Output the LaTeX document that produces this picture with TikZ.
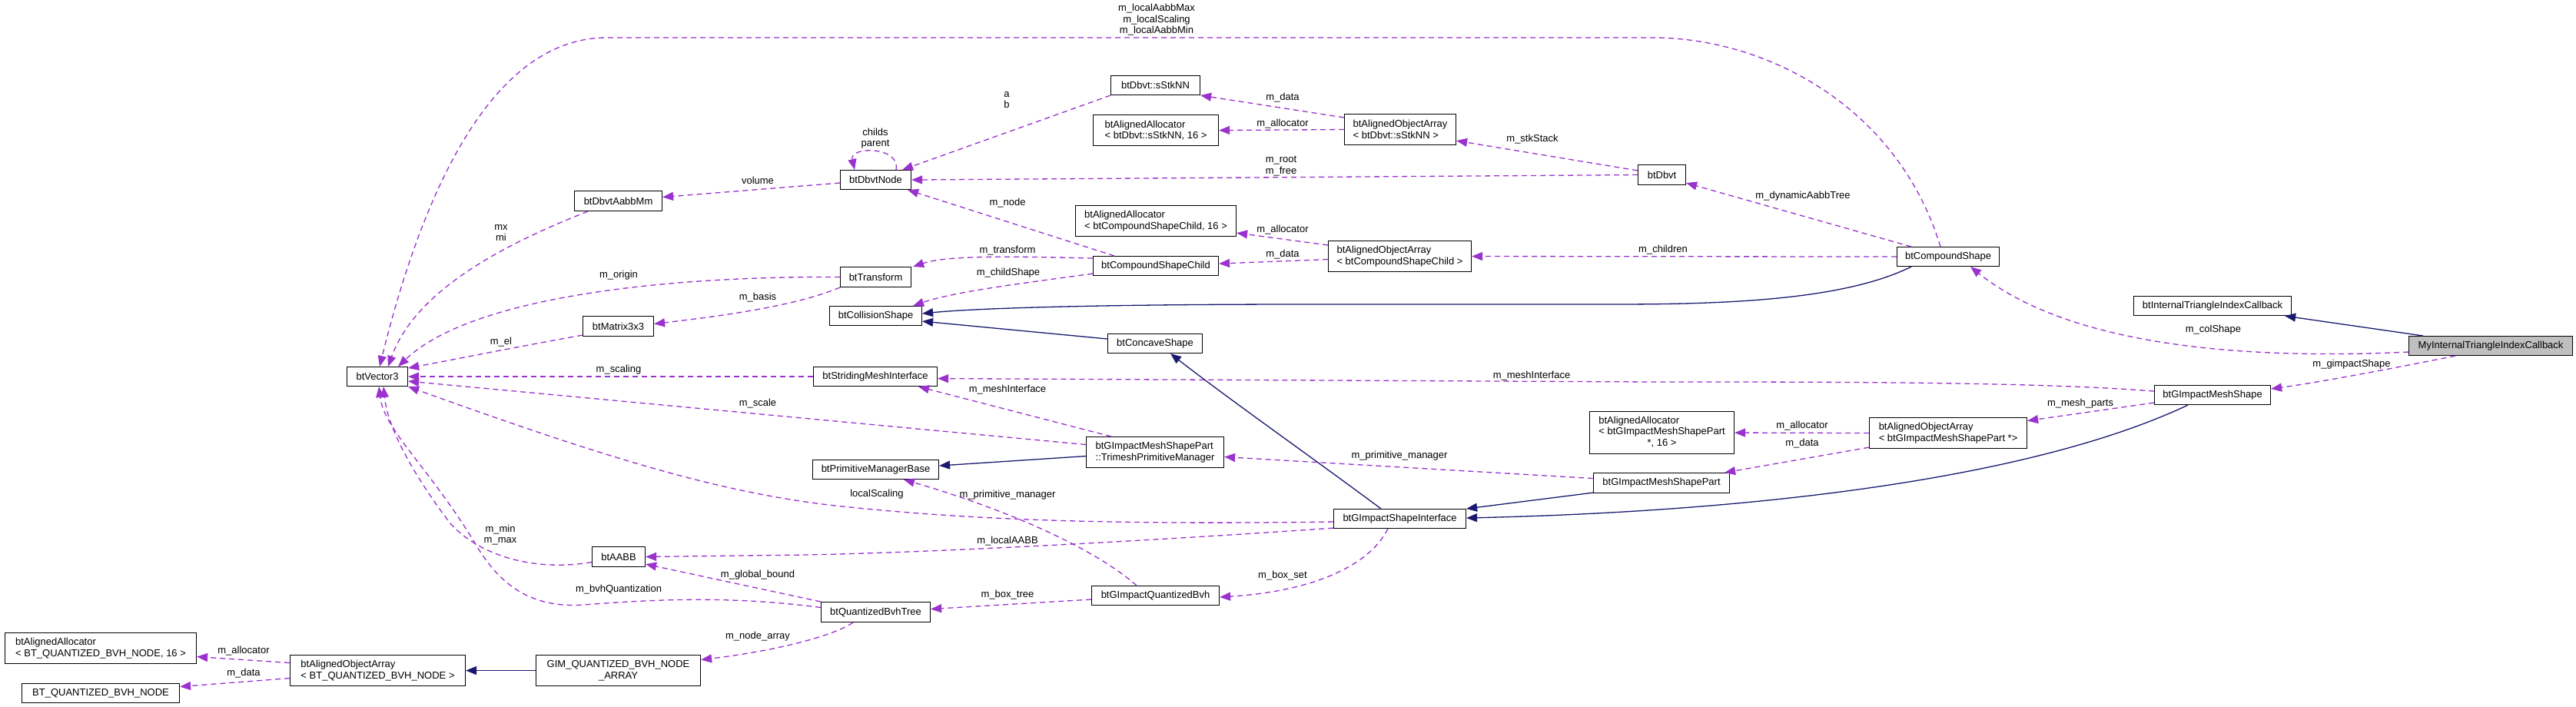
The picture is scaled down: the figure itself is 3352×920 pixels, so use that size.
\documentclass[tikz,border=0pt]{standalone}
\usepackage{fontspec}
\setmainfont{Liberation Sans}
\usetikzlibrary{arrows.meta,calc}
\definecolor{purp}{HTML}{9A32CD}
\definecolor{mblue}{HTML}{191970}
\definecolor{nodegray}{HTML}{BFBFBF}
\newcommand\dxf{\fontsize{13}{14.5}\selectfont}
\tikzset{
  usage/.style={draw=purp, line width=1.3pt, dash pattern=on 7pt off 5pt, -{Triangle[length=14pt,width=11pt]}},
  inh/.style={draw=mblue, line width=1.3pt, -{Triangle[length=14pt,width=11pt]}},
  box/.style={draw=black, line width=1.1pt, fill=white, inner sep=0pt, font=\dxf, anchor=north west, align=left},
  lbl/.style={font=\dxf, inner sep=0pt, align=center},
}
\begin{document}
\begin{tikzpicture}[x=1pt,y=-1pt]
\fill[white] (0,0) rectangle (3352,920);
\useasboundingbox (0,0) rectangle (3352,920);

% nodes
\node[box, minimum width=114pt, minimum height=26pt] (aabbmm) at (747,248) {btDbvtAabbMm};
\node[box, minimum width=92pt, minimum height=26pt] (mat) at (758,411) {btMatrix3x3};
\node[box, minimum width=79pt, minimum height=25pt] (vec) at (451,477) {btVector3};
\node[box, minimum width=249pt, minimum height=40pt] (allocbt) at (6,823) {btAlignedAllocator\\< BT\_QUANTIZED\_BVH\_NODE, 16 >};
\node[box, minimum width=205pt, minimum height=25pt] (bqbn) at (28,889) {BT\_QUANTIZED\_BVH\_NODE};
\node[box, minimum width=228pt, minimum height=40pt] (arrbt) at (377,852) {btAlignedObjectArray\\< BT\_QUANTIZED\_BVH\_NODE >};
\node[box, minimum width=214pt, minimum height=40pt, align=center] (gimarr) at (697,852) {GIM\_QUANTIZED\_BVH\_NODE\\\_ARRAY};
\node[box, minimum width=69pt, minimum height=26pt] (aabb) at (770,711) {btAABB};
\node[box, minimum width=116pt, minimum height=25pt] (sstk) at (1445,98) {btDbvt::sStkNN};
\node[box, minimum width=163pt, minimum height=40pt] (allocsstk) at (1422,149) {btAlignedAllocator\\< btDbvt::sStkNN, 16 >};
\node[box, minimum width=145pt, minimum height=40pt] (arrsstk) at (1749,148) {btAlignedObjectArray\\< btDbvt::sStkNN >};
\node[box, minimum width=92pt, minimum height=25pt] (dnode) at (1093,221) {btDbvtNode};
\node[box, minimum width=62pt, minimum height=26pt] (dbvt) at (2131,214) {btDbvt};
\node[box, minimum width=209pt, minimum height=40pt] (alloccsc) at (1399,267) {btAlignedAllocator\\< btCompoundShapeChild, 16 >};
\node[box, minimum width=186pt, minimum height=40pt] (arrcsc) at (1728,313) {btAlignedObjectArray\\< btCompoundShapeChild >};
\node[box, minimum width=163pt, minimum height=25pt] (csc) at (1422,333) {btCompoundShapeChild};
\node[box, minimum width=92pt, minimum height=26pt] (trans) at (1093,347) {btTransform};
\node[box, minimum width=120pt, minimum height=25pt] (colshape) at (1079,398) {btCollisionShape};
\node[box, minimum width=123pt, minimum height=25pt] (concave) at (1441,434) {btConcaveShape};
\node[box, minimum width=133pt, minimum height=25pt] (compound) at (2468,321) {btCompoundShape};
\node[box, minimum width=205pt, minimum height=25pt] (itic) at (2776,385) {btInternalTriangleIndexCallback};
\node[box, minimum width=213pt, minimum height=25pt, fill=nodegray] (my) at (3134,437) {MyInternalTriangleIndexCallback};
\node[box, minimum width=161pt, minimum height=25pt] (smi) at (1058,477) {btStridingMeshInterface};
\node[box, minimum width=179pt, minimum height=40pt] (tpm) at (1413,568) {btGImpactMeshShapePart\\::TrimeshPrimitiveManager};
\node[box, minimum width=164pt, minimum height=25pt] (pmb) at (1057,598) {btPrimitiveManagerBase};
\node[box, minimum width=172pt, minimum height=25pt] (gsi) at (1735,662) {btGImpactShapeInterface};
\node[box, minimum width=166pt, minimum height=25pt] (gqbvh) at (1420,762) {btGImpactQuantizedBvh};
\node[box, minimum width=142pt, minimum height=26pt] (qbt) at (1068,783) {btQuantizedBvhTree};
\node[box, minimum width=151pt, minimum height=25pt] (gms) at (2803,501) {btGImpactMeshShape};
\node[box, minimum width=205pt, minimum height=40pt] (arrgp) at (2432,543) {btAlignedObjectArray\\< btGImpactMeshShapePart *>};
\node[box, minimum width=188pt, minimum height=55pt] (allocgp) at (2068,535) {\begin{tabular}{@{}l@{}}btAlignedAllocator\\< btGImpactMeshShapePart\\\multicolumn{1}{@{}c@{}}{*, 16 >}\end{tabular}};
\node[box, minimum width=177pt, minimum height=26pt] (gmsp) at (2073,615) {btGImpactMeshShapePart};

% usage edges
\draw[usage] ($(compound.north west)+(57,0)$) .. controls (2470,140) and (2300,49) .. (2150,49) -- (790,49) .. controls (640,49) and (550,250) .. ($(vec.north west)+(43,0)$);
\draw[usage] ($(aabbmm.south west)+(18,0)$) .. controls (650,320) and (540,380) .. ($(vec.north west)+(54,0)$);
\draw[usage] ($(dnode.west)+(0,4)$) -- ($(aabbmm.east)+(0,-5)$);
\draw[usage] (trans.west) .. controls (900,359) and (620,380) .. ($(vec.north west)+(67,0)$);
\draw[usage] (trans.south west) .. controls (1030,400) and (930,412) .. ($(mat.east)+(0,-3)$);
\draw[usage] ($(mat.south west)+(0,-2)$) .. controls (680,450) and (600,466) .. ($(vec.north east)+(0,2)$);
\draw[usage] (smi.west) -- (vec.east);
\draw[usage] ($(tpm.west)+(0,-10)$) -- ($(vec.east)+(0,6)$);
\draw[usage] ($(gsi.west)+(0,4)$) .. controls (1500,682) and (1300,680) .. (1106,660) .. controls (950,645) and (800,600) .. (vec.south east);
\draw[usage] ($(aabb.west)+(0,7)$) .. controls (690,745) and (620,720) .. (585,680) .. controls (540,620) and (505,560) .. ($(vec.south west)+(48,0)$);
\draw[usage] ($(qbt.west)+(0,-6)$) .. controls (950,775) and (850,780) .. (760,787) .. controls (690,792) and (650,760) .. (620,710) .. controls (560,610) and (500,560) .. ($(vec.south west)+(42,0)$);
\draw[usage] (qbt.north west) -- ($(aabb.south east)+(0,-4)$);
\draw[usage] ($(gsi.south west)+(0,-1)$) .. controls (1550,700) and (1250,718) .. (1050,722) -- (aabb.east);
\draw[usage] ($(qbt.south west)+(42,0)$) .. controls (1080,830) and (1000,848) .. ($(gimarr.east)+(0,-14)$);
\draw[usage] ($(arrbt.west)+(0,-10)$) -- ($(allocbt.east)+(0,11)$);
\draw[usage] ($(arrbt.west)+(0,10)$) -- ($(bqbn.east)+(0,-8.5)$);
\draw[usage] ($(dnode.north west)+(73,0)$) .. controls (1172,190) and (1105,190) .. ($(dnode.north west)+(19,0)$);
\draw[usage] (sstk.south west) -- ($(dnode.north east)+(-12,0)$);
\draw[usage] ($(arrsstk.north west)+(0,5)$) -- (sstk.south east);
\draw[usage] (arrsstk.west) -- (allocsstk.east);
\draw[usage] ($(dbvt.north west)+(0,8)$) -- ($(arrsstk.south east)+(0,-6)$);
\draw[usage] (dbvt.west) -- (dnode.east);
\draw[usage] ($(csc.north west)+(28,0)$) -- ($(dnode.south east)+(-5,0)$);
\draw[usage] ($(csc.west)+(0,-10)$) .. controls (1300,333) and (1230,333) .. ($(trans.north east)+(2,0)$);
\draw[usage] ($(csc.south west)+(0,-3)$) .. controls (1320,370) and (1240,380) .. ($(colshape.north east)+(-12,0)$);
\draw[usage] ($(arrcsc.west)+(0,4)$) -- ($(csc.east)+(0,-3)$);
\draw[usage] ($(arrcsc.north west)+(0,6)$) -- ($(alloccsc.south east)+(0,-5)$);
\draw[usage] (compound.west) -- (arrcsc.east);
\draw[usage] ($(compound.north west)+(19,0)$) -- ($(dbvt.south east)+(0,-3)$);
\draw[usage] ($(gms.west)+(0,10)$) -- ($(arrgp.east)+(0,-16)$);
\draw[usage] (arrgp.west) -- (allocgp.east);
\draw[usage] ($(arrgp.south west)+(0,-2)$) -- ($(gmsp.north east)+(-7,0)$);
\draw[usage] ($(gms.west)+(0,-5)$) .. controls (2650,497) and (2400,497) .. (2150,497) -- ($(smi.east)+(0,2.5)$);
\draw[usage] ($(tpm.north west)+(33,0)$) -- ($(smi.south east)+(-25,0)$);
\draw[usage] ($(gmsp.west)+(0,-6)$) -- ($(tpm.east)+(0,6)$);
\draw[usage] ($(gqbvh.north west)+(59,0)$) .. controls (1420,710) and (1300,660) .. ($(pmb.south west)+(119,0)$);
\draw[usage] ($(gqbvh.west)+(0,5)$) -- ($(qbt.east)+(0,-4)$);
\draw[usage] ($(gsi.south west)+(71,0)$) .. controls (1780,740) and (1700,770) .. ($(gqbvh.east)+(0,2)$);
\draw[usage] ($(my.west)+(0,8)$) .. controls (2880,470) and (2680,440) .. ($(compound.south east)+(-38,0)$);
\draw[usage] ($(my.south west)+(61,0)$) .. controls (3100,482) and (3020,497) .. ($(gms.east)+(0,-8)$);

% inheritance edges
\draw[inh] (gimarr.west) -- (arrbt.east);
\draw[inh] ($(compound.south west)+(19,0)$) .. controls (2400,390) and (2250,396) .. (2100,396) -- (1700,396) .. controls (1400,396) and (1260,402) .. ($(colshape.east)+(0,-3)$);
\draw[inh] ($(concave.west)+(0,-6)$) -- ($(colshape.east)+(0,7)$);
\draw[inh] ($(gsi.north west)+(62,0)$) .. controls (1700,590) and (1600,520) .. ($(concave.south west)+(82,0)$);
\draw[inh] ($(gmsp.south west)+(0,-1)$) -- (gsi.north east);
\draw[inh] ($(gms.south west)+(44,0)$) .. controls (2650,620) and (2300,665) .. ($(gsi.east)+(0,-1)$);
\draw[inh] ($(tpm.west)+(0,5)$) -- ($(pmb.east)+(0,-5)$);
\draw[inh] ($(my.north west)+(19,0)$) -- ($(itic.south east)+(-9,0)$);

% labels
\node[lbl] (t1) at (1505,26) {m\_localAabbMax\\m\_localScaling\\m\_localAabbMin};
\node[lbl] (t2) at (652,303) {mx\\mi};
\node[lbl] (t3) at (986,235) {volume};
\node[lbl] (t4) at (805,358) {m\_origin};
\node[lbl] (t5) at (986,387) {m\_basis};
\node[lbl] (t6) at (652,445) {m\_el};
\node[lbl] (t7) at (805,481) {m\_scaling};
\node[lbl] (t8) at (986,525) {m\_scale};
\node[lbl] (t9) at (1141,643) {localScaling};
\node[lbl] (t10) at (651,696) {m\_min\\m\_max};
\node[lbl] (t11) at (805,767) {m\_bvhQuantization};
\node[lbl] (t12) at (986,748) {m\_global\_bound};
\node[lbl] (t13) at (1311,704) {m\_localAABB};
\node[lbl] (t14) at (986,828) {m\_node\_array};
\node[lbl] (t15) at (317,847) {m\_allocator};
\node[lbl] (t16) at (317,876) {m\_data};
\node[lbl] (t17) at (1139,180) {childs\\parent};
\node[lbl] (t18) at (1310,130) {a\\b};
\node[lbl] (t19) at (1669,127) {m\_data};
\node[lbl] (t20) at (1669,161) {m\_allocator};
\node[lbl] (t21) at (1994,181) {m\_stkStack};
\node[lbl] (t22) at (1667,216) {m\_root\\m\_free};
\node[lbl] (t23) at (1311,264) {m\_node};
\node[lbl] (t24) at (1311,326) {m\_transform};
\node[lbl] (t25) at (1312,355) {m\_childShape};
\node[lbl] (t26) at (1669,331) {m\_data};
\node[lbl] (t27) at (1669,299) {m\_allocator};
\node[lbl] (t28) at (2164,325) {m\_children};
\node[lbl] (t29) at (2346,255) {m\_dynamicAabbTree};
\node[lbl] (t30) at (1993,489) {m\_meshInterface};
\node[lbl] (t31) at (1311,507) {m\_meshInterface};
\node[lbl] (t32) at (1821,593) {m\_primitive\_manager};
\node[lbl] (t33) at (1311,644) {m\_primitive\_manager};
\node[lbl] (t34) at (1311,774) {m\_box\_tree};
\node[lbl] (t35) at (1669,749) {m\_box\_set};
\node[lbl] (t36) at (2707,525) {m\_mesh\_parts};
\node[lbl] (t37) at (2345,554) {m\_allocator};
\node[lbl] (t38) at (2345,577) {m\_data};
\node[lbl] (t39) at (2880,429) {m\_colShape};
\node[lbl] (t40) at (3060,474) {m\_gimpactShape};
\end{tikzpicture}
\end{document}
